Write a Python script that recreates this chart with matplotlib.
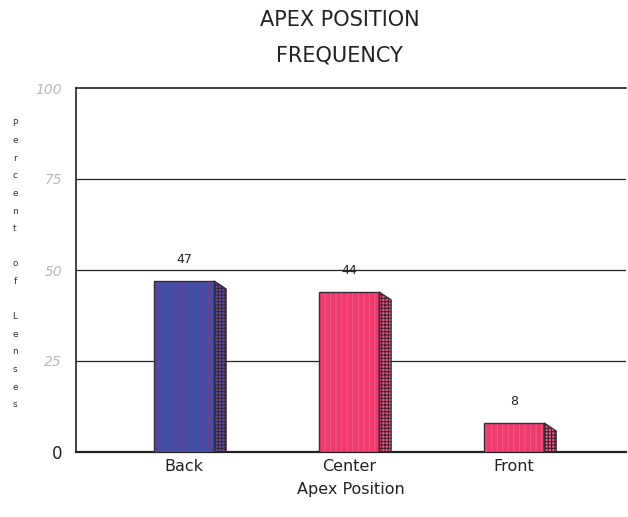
import matplotlib.pyplot as plt
from matplotlib.patches import Polygon

categories = ['Back', 'Center', 'Front']
percent = [47, 44, 8]
yticks = [0, 25, 50, 75, 100]
ylabel_words = ['Percent', 'of', 'Lenses']

front_colors = ['#3f51a6', '#ee3a6c', '#ee3a6c']
stripe_colors = ['#7a3a90', '#f25a86', '#f25a86']
side_colors = ['#5a4f9a', '#e8557f', '#e8557f']

plt.rcParams['hatch.linewidth'] = 0.7

fig = plt.figure(figsize=(6.28, 5.17), dpi=100)
ax = fig.add_axes([76 / 628, 65 / 517, 550 / 628, 364 / 517])

x = list(range(len(categories)))
bar_w = 0.364
depth_x = 0.073
depth_y = 2.2

for i, h in enumerate(percent):
    # front face
    ax.bar(x[i], h, width=bar_w, color=front_colors[i], linewidth=0, zorder=3)
    ax.bar(x[i], h, width=bar_w, color='none', edgecolor=stripe_colors[i],
           hatch='|||', linewidth=0, zorder=3.1)
    ax.bar(x[i], h, width=bar_w, color='none', edgecolor='#3a2a3a',
           linewidth=1.0, zorder=3.2)
    # side face with dotted pattern and chamfered top
    xr = x[i] + bar_w / 2
    side = Polygon([(xr, h), (xr + depth_x, h - depth_y), (xr + depth_x, 0), (xr, 0)],
                   closed=True, facecolor=side_colors[i], edgecolor='#3a2030',
                   hatch='+++++', linewidth=0.8, zorder=3)
    ax.add_patch(side)
    ax.text(x[i], h + 4, str(h), ha='center', va='bottom', fontsize=9,
            color='#222222', zorder=4)

ax.set_xlim(-0.655, 2.678)
ax.set_ylim(0, 100)

ax.set_yticks(yticks)
ax.set_yticklabels([str(t) for t in yticks])
for lab, t in zip(ax.get_yticklabels(), yticks):
    if t == 0:
        lab.set_color('#222222')
        lab.set_fontsize(12)
    else:
        lab.set_color('#b8b8b8')
        lab.set_fontsize(10)
        lab.set_fontstyle('italic')
ax.tick_params(axis='y', length=0, pad=10)

ax.set_xticks(x)
ax.set_xticklabels(categories, fontsize=11.5, color='#222222')
ax.tick_params(axis='x', length=0, pad=5)

for t in yticks[1:-1]:
    ax.axhline(t, color='#222222', linewidth=0.9, zorder=1)

ax.spines['right'].set_visible(False)
ax.spines['top'].set_linewidth(1.2)
ax.spines['left'].set_linewidth(1.2)
ax.spines['bottom'].set_linewidth(1.6)
for s in ['top', 'left', 'bottom']:
    ax.spines[s].set_color('#222222')

ax.set_xlabel('Apex Position', fontsize=11.5, color='#222222', labelpad=6)

fig.text(0.541, 1 - 20 / 517, 'APEX POSITION', ha='center', va='center',
         fontsize=15, fontweight='medium', color='#222222')
fig.text(0.541, 1 - 55 / 517, 'FREQUENCY', ha='center', va='center',
         fontsize=15, fontweight='medium', color='#222222')

# stacked vertical y label, one letter per line
letters = list(' '.join(ylabel_words))
y0 = 1 - 123 / 517
step = 17.6 / 517
for k, ch in enumerate(letters):
    if ch == ' ':
        continue
    fig.text(15 / 628, y0 - k * step, ch, ha='center', va='center',
             fontsize=6.5, color='#333333')

fig.savefig('out.png', dpi=100)
